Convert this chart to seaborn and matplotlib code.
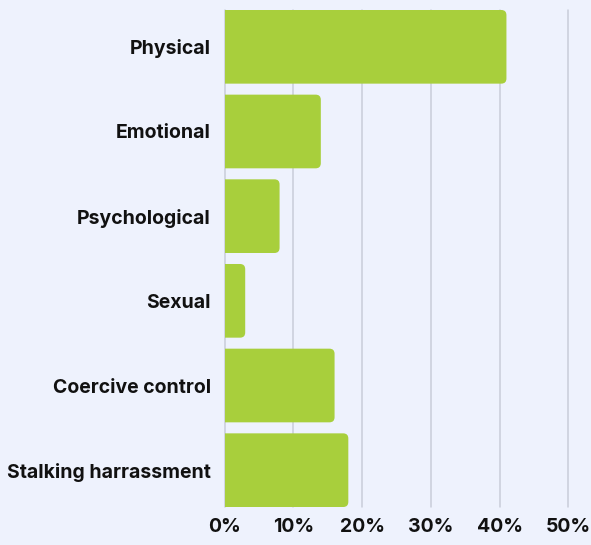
import matplotlib
matplotlib.use("Agg")
import matplotlib.pyplot as plt
import seaborn as sns
import pandas as pd
from matplotlib.patches import FancyBboxPatch
from matplotlib.ticker import FuncFormatter

categories = ["Physical", "Emotional", "Psychological", "Sexual",
              "Coercive control", "Stalking harrassment"]
shares = [41, 14, 8, 3, 16, 18]

df = pd.DataFrame({"Type": categories, "Share": shares})

bg = "#eef2fd"
green = "#a8cf3c"

sns.set_theme(style="white")
plt.rcParams['font.family'] = ['Inter', 'DejaVu Sans']

fig = plt.figure(figsize=(5.91, 5.45), dpi=100, facecolor=bg)
ax = fig.add_axes([0.380, 0.0697, 0.5816, 0.9120])
ax.set_facecolor(bg)

sns.barplot(data=df, x="Share", y="Type", color=green, width=0.87,
            saturation=1, ax=ax, zorder=2)

# swap plain bars for ones with rounded ends
r = 0.75
aspect = (1 / 84.3) / (10 / 68.7)
for p in list(ax.patches):
    x, y, w, h = p.get_x(), p.get_y(), p.get_width(), p.get_height()
    p.remove()
    ax.add_patch(FancyBboxPatch((x - r, y), w + r, h,
                                boxstyle=f"round,pad=0,rounding_size={r}",
                                mutation_aspect=aspect, facecolor=green,
                                edgecolor="none", zorder=2))

ax.set_xlim(0, 50)
ax.set_ylim(5 + 0.435, -0.435)
ax.set_xticks(range(0, 51, 10))
ax.xaxis.set_major_formatter(FuncFormatter(lambda v, _: f"{v:.0f}%"))
ax.grid(axis="x", color="#c9cdd9", linewidth=1.1, zorder=0)
for gl in ax.get_xgridlines():
    gl.set_clip_on(False)
ax.grid(axis="y", visible=False)
for s in ax.spines.values():
    s.set_visible(False)

ax.set_xlabel("")
ax.set_ylabel("")
ax.tick_params(axis="y", length=0, pad=10, labelsize=14, labelcolor="#111111")
ax.tick_params(axis="x", length=0, pad=8, labelsize=14, labelcolor="#111111")
for lab in ax.get_yticklabels() + ax.get_xticklabels():
    lab.set_fontweight("bold")

fig.savefig("out.png", dpi=100, facecolor=bg)
